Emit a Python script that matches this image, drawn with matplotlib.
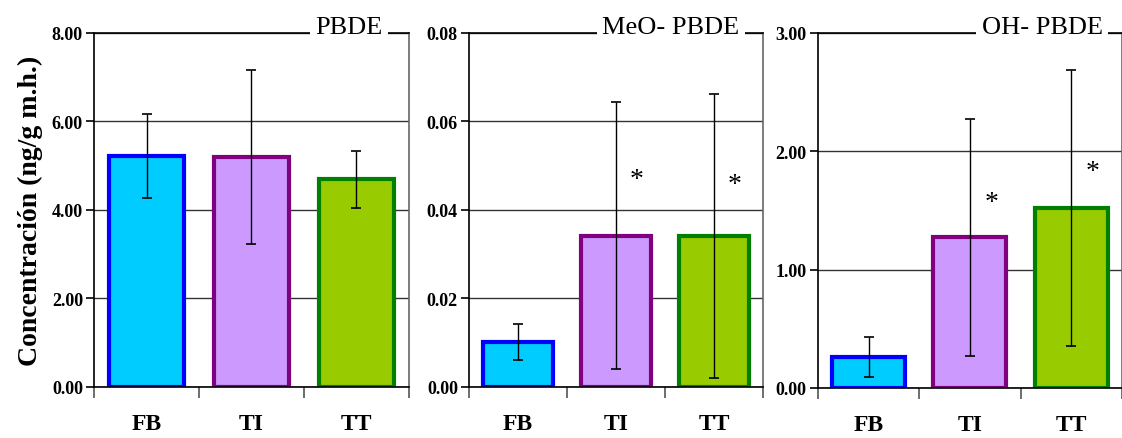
import numpy as np
import matplotlib.pyplot as plt
from matplotlib.ticker import MultipleLocator, FixedLocator, FormatStrFormatter

# data
groups = ['FB', 'TI', 'TT']
titles = ['PBDE', 'MeO- PBDE', 'OH- PBDE']

pbde_mean = [5.22, 5.19, 4.69]
pbde_err = [0.95, 1.97, 0.64]

meo_mean = [0.0101, 0.0342, 0.0342]
meo_err = [0.0041, 0.0301, 0.0321]

oh_mean = [0.262, 1.272, 1.52]
oh_err = [0.166, 1.0, 1.163]

# significance stars (y position) for TI and TT
meo_star_y = [None, 0.0469, 0.0458]
oh_star_y = [None, 1.57, 1.83]

face_colors = ['#00CCFF', '#CC99FF', '#99CC00']
edge_colors = ['#0000FF', '#800080', '#008000']

serif = ['Liberation Serif', 'DejaVu Serif']

fig = plt.figure(figsize=(11.22, 4.39), dpi=100)

panels = [
    dict(rect=[0.0838, 0.1162, 0.2807, 0.8064], mean=pbde_mean, err=pbde_err,
         ymax=8.0, step=2.0, fmt='%.2f', stars=None, tx=0.81),
    dict(rect=[0.418, 0.1162, 0.262, 0.8064], mean=meo_mean, err=meo_err,
         ymax=0.08, step=0.02, fmt='%.2f', stars=meo_star_y, tx=0.687),
    dict(rect=[0.729, 0.1140, 0.271, 0.8086], mean=oh_mean, err=oh_err,
         ymax=3.0, step=1.0, fmt='%.2f', stars=oh_star_y, tx=0.737),
]

x = np.arange(len(groups))

for i, p in enumerate(panels):
    ax = fig.add_axes(p['rect'])
    ax.set_axisbelow(True)
    ax.bar(x, p['mean'], width=0.72, color=face_colors, edgecolor=edge_colors,
           linewidth=3, zorder=2)
    ax.errorbar(x, p['mean'], yerr=p['err'], fmt='none', ecolor='black',
                elinewidth=1, capsize=3.5, capthick=1.2, zorder=3)
    if p['stars'] is not None:
        for xi, sy in zip(x, p['stars']):
            if sy is not None:
                ax.text(xi + 0.21, sy, '*', ha='center', va='center',
                        fontsize=20, family=serif)

    ax.set_xlim(-0.5, 2.5)
    ax.set_ylim(0, p['ymax'])
    ax.yaxis.set_major_locator(MultipleLocator(p['step']))
    ax.yaxis.set_major_formatter(FormatStrFormatter(p['fmt']))
    ax.yaxis.grid(True, color='#333333', linewidth=1)

    ax.set_xticks(x)
    ax.set_xticklabels(groups)
    ax.xaxis.set_minor_locator(FixedLocator([-0.5, 0.5, 1.5, 2.5]))
    ax.tick_params(axis='x', which='major', length=0, pad=19)
    ax.tick_params(axis='x', which='minor', direction='out', length=8,
                   width=1.2, color='#555555')
    ax.tick_params(axis='y', direction='out', length=6, width=1.2, pad=2)

    for lab in ax.get_xticklabels():
        lab.set_family(serif)
        lab.set_fontweight('bold')
        lab.set_fontsize(17)
    for lab in ax.get_yticklabels():
        lab.set_family(serif)
        lab.set_fontweight('bold')
        lab.set_fontsize(13)

    for s in ['left', 'bottom', 'top']:
        ax.spines[s].set_color('black')
        ax.spines[s].set_linewidth(1.2)
    ax.spines['right'].set_color('#666666')
    ax.spines['right'].set_linewidth(1.2)

    ax.text(p['tx'], 1.0, titles[i], transform=ax.transAxes, ha='center',
            va='baseline', fontsize=19, family=serif, zorder=5, clip_on=False,
            bbox=dict(facecolor='white', edgecolor='none', pad=4))

    if i == 0:
        ax.set_ylabel('Concentración (ng/g m.h.)', fontsize=20,
                      fontweight='bold', family=serif, labelpad=6)

fig.savefig('out.png', dpi=100)
